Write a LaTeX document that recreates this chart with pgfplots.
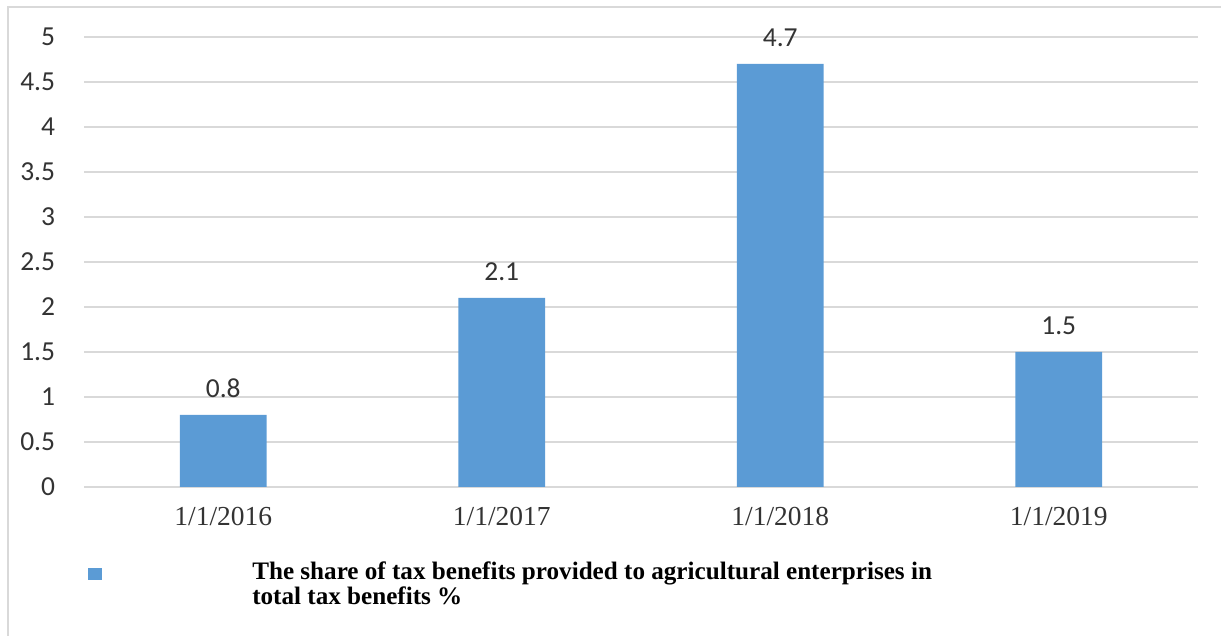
\documentclass[border=0pt]{standalone}
\usepackage{pgfplots}
\pgfplotsset{compat=1.18}
\usepackage{fontspec}
\setmainfont{Liberation Serif}
\newfontfamily\calib{Carlito}
\definecolor{barblue}{HTML}{5B9BD5}
\definecolor{gridgray}{HTML}{D9D9D9}
\begin{document}
\begin{tikzpicture}
\begin{scope}[x=0.75bp,y=0.75bp]
\draw[gridgray,line width=1.5bp] (8,-10) -- (8,629) -- (1230,629);
\fill[barblue] (88,56) rectangle (102,68);
\node[anchor=north west,inner sep=0pt,align=left,font=\bfseries\fontsize{18.85bp}{18.2bp}\selectfont] at (252,74)
  {The share of tax benefits provided to agricultural enterprises in\\total tax benefits \%};
\end{scope}
\begin{axis}[
  at={(63bp,111.75bp)}, anchor=south west,
  scale only axis, width=835.5bp, height=337.5bp,
  xmin=-0.5, xmax=3.5, ymin=0, ymax=5,
  axis line style={draw=none},
  ytick={0,0.5,...,5},
  xtick={0,1,2,3},
  xticklabels={1/1/2016,1/1/2017,1/1/2018,1/1/2019},
  major tick length=0pt,
  ymajorgrids, grid style={gridgray,line width=1.1bp},
  yticklabel style={font=\calib\fontsize{20.6bp}{24bp}\selectfont, color=black!80, anchor=east, inner sep=0pt, xshift=-21.5bp},
  xticklabel style={font=\fontsize{20.6bp}{24bp}\selectfont, color=black!80, anchor=north, inner sep=0pt, yshift=-15bp},
  /pgf/number format/assume math mode=true,
  clip=false,
]
\addplot[ybar, bar width=65bp, fill=barblue, draw=none,
  nodes near coords,
  every node near coord/.append style={font=\calib\fontsize{20.6bp}{24bp}\selectfont, color=black!80, anchor=south, inner sep=0pt, yshift=12.5bp},
  /pgf/number format/.cd, fixed, precision=1, assume math mode=true]
  coordinates {(0,0.8) (1,2.1) (2,4.7) (3,1.5)};
\end{axis}
\pgfresetboundingbox
\useasboundingbox (0,0) rectangle (915.75bp,477bp);
\end{tikzpicture}
\end{document}
